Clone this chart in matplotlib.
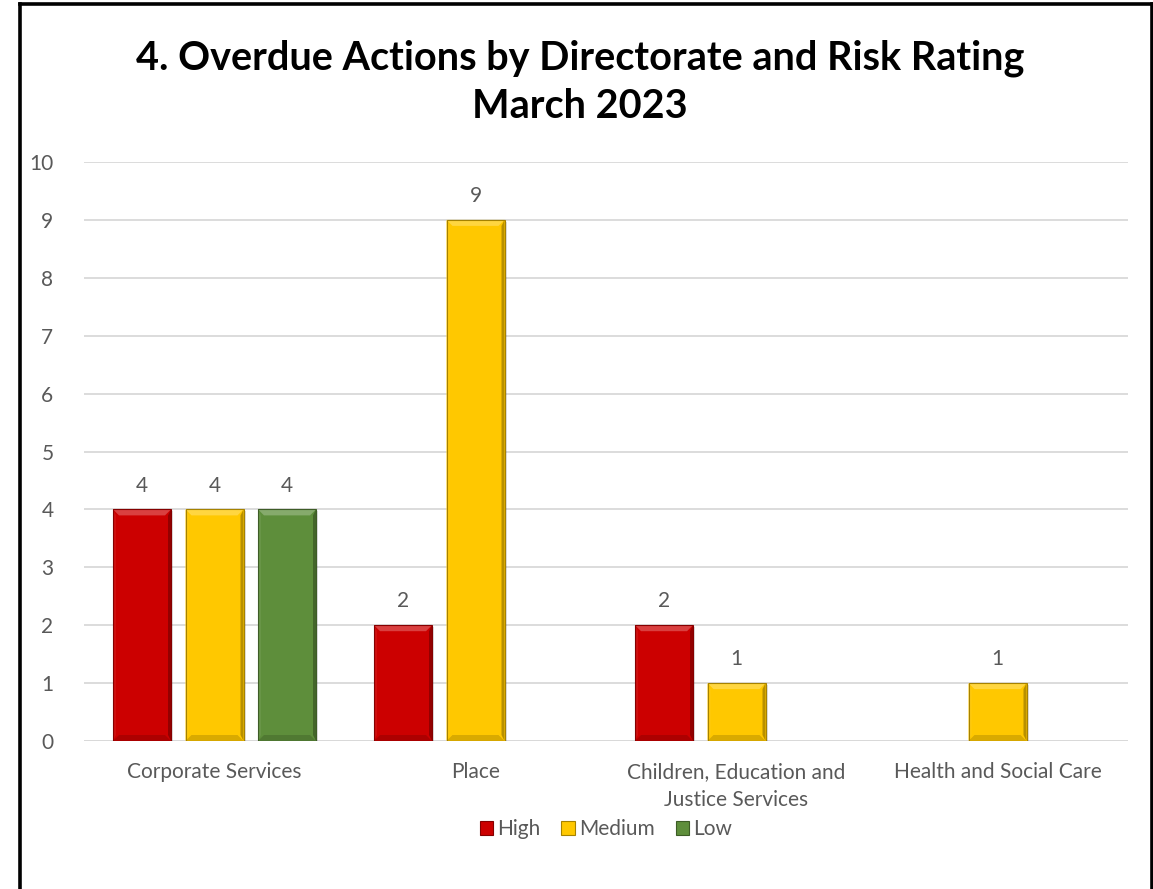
import matplotlib
matplotlib.use("Agg")
from matplotlib import pyplot as plt
from matplotlib.patches import Rectangle, Polygon, Patch
from matplotlib.lines import Line2D
import numpy as np

directorates = ["Corporate Services", "Place",
                "Children, Education and\nJustice Services", "Health and Social Care"]
ratings = ["High", "Medium", "Low"]
high = [4, 2, 2, 0]
medium = [4, 9, 1, 1]
low = [4, 0, 0, 0]

colours = {"High": "#CC0000", "Medium": "#FFC800", "Low": "#5E8E3B"}
TEXT = "#595959"
FONT = ["Lato", "DejaVu Sans"]
FS = 15

W, H = 1153, 889
fig = plt.figure(figsize=(W / 100, H / 100), dpi=100)
fig.patch.set_facecolor("white")

# outer frame (left, top, right)
fig.add_artist(Line2D([19.5 / W, 19.5 / W], [0, 1 - 3.5 / H], color="black", lw=2.6,
                      transform=fig.transFigure))
fig.add_artist(Line2D([19.5 / W, 1151.5 / W], [1 - 3.5 / H, 1 - 3.5 / H], color="black",
                      lw=2.6, transform=fig.transFigure))
fig.add_artist(Line2D([1151.5 / W, 1151.5 / W], [0, 1 - 3.5 / H], color="black", lw=2.6,
                      transform=fig.transFigure))

ax = fig.add_axes([84 / W, (H - 741) / H, (1128 - 84) / W, (741 - 162) / H])
ax.set_xlim(-0.5, 3.5)
ax.set_ylim(0, 10)
for s in ax.spines.values():
    s.set_visible(False)
ax.set_yticks(range(0, 11))
ax.yaxis.grid(True, color="#D9D9D9", lw=1.3)
ax.set_axisbelow(True)
ax.tick_params(length=0, labelsize=FS, labelcolor=TEXT, pad=22)
ax.tick_params(axis="x", pad=15)
ax.set_xticks(range(len(directorates)))
ax.set_xticklabels(directorates, linespacing=1.5)
for lbl in ax.get_xticklabels() + ax.get_yticklabels():
    lbl.set_fontfamily(FONT)
ax.axhline(0, color="#D9D9D9", lw=1.3, zorder=1)


def shade(c, f):
    rgb = np.array(matplotlib.colors.to_rgb(c))
    if f > 0:
        return tuple(rgb + (1 - rgb) * f)
    return tuple(rgb * (1 + f))


# pixel size of one data unit
px_x = (1128 - 84) / 4.0
px_y = (741 - 162) / 10.0


def bevel_bar(x0, w, h, col):
    bx = 6 / px_x
    by = 6 / px_y
    x1 = x0 + w
    ax.add_patch(Rectangle((x0 + 2 / px_x, -2 / px_y), w, h, color="#000000", alpha=0.12,
                           lw=0, zorder=2))
    ax.add_patch(Rectangle((x0, 0), w, h, color=col, lw=0, zorder=3))
    # top face
    ax.add_patch(Polygon([(x0, h), (x1, h), (x1 - bx, h - by), (x0 + bx, h - by)],
                         color=shade(col, 0.25), lw=0, zorder=4))
    # left face
    ax.add_patch(Polygon([(x0, h), (x0 + bx * 0.5, h - by), (x0 + bx * 0.5, by), (x0, 0)],
                         color=shade(col, 0.06), lw=0, zorder=4))
    # right face
    ax.add_patch(Polygon([(x1, h), (x1 - bx * 0.5, h - by), (x1 - bx * 0.5, by), (x1, 0)],
                         color=shade(col, -0.28), lw=0, zorder=4))
    # bottom face
    ax.add_patch(Polygon([(x0, 0), (x1, 0), (x1 - bx, by), (x0 + bx, by)],
                         color=shade(col, -0.15), lw=0, zorder=4))
    ax.add_patch(Rectangle((x0, 0), w, h, fill=False, ec=shade(col, -0.35), lw=0.8,
                           zorder=5))


bar_w = 58 / px_x
step = 72.5 / px_x
series = [("High", high), ("Medium", medium), ("Low", low)]
for k, (name, vals) in enumerate(series):
    for i, v in enumerate(vals):
        if v == 0:
            continue
        xc = i + (k - 1) * step
        bevel_bar(xc - bar_w / 2, bar_w, v, colours[name])
        ax.text(xc, v + 0.24, str(v), ha="center", va="bottom", fontsize=FS,
                color=TEXT, family=FONT)

fig.text(580 / W, 1 - 58 / H, "4. Overdue Actions by Directorate and Risk Rating",
         ha="center", va="center", fontsize=28.5, fontweight="bold", color="black",
         family=FONT)
fig.text(580 / W, 1 - 106 / H, "March 2023", ha="center", va="center", fontsize=28.5,
         fontweight="bold", color="black", family=FONT)

handles = [Patch(facecolor=colours[r], edgecolor=shade(colours[r], -0.35), lw=0.8)
           for r in ratings]
leg = fig.legend(handles, ratings, loc="center", bbox_to_anchor=(606 / W, 1 - 829 / H),
                 ncol=3, frameon=False, handlelength=0.65, handleheight=0.65,
                 handletextpad=0.2, columnspacing=1.0,
                 prop={"family": FONT, "size": FS})
for t in leg.get_texts():
    t.set_color(TEXT)

fig.savefig("out.png", dpi=100)
